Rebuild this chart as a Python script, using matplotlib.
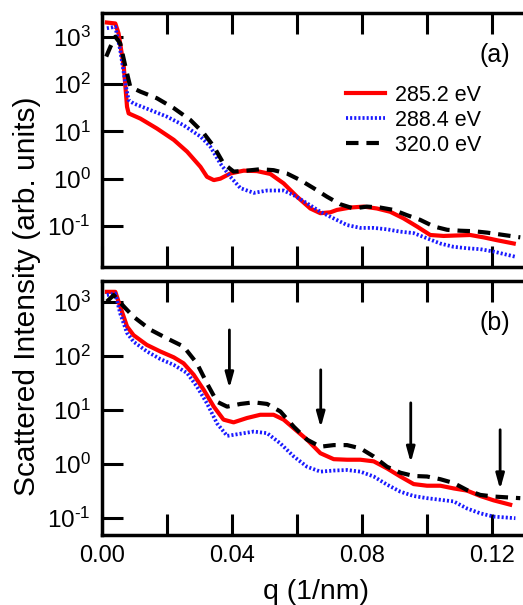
import numpy as np
import matplotlib
matplotlib.use("Agg")
import matplotlib.pyplot as plt
from matplotlib.ticker import FixedLocator, FixedFormatter, NullLocator

plt.rcParams['font.family'] = ['Liberation Sans', 'DejaVu Sans']
plt.rcParams['mathtext.fontset'] = 'custom'
plt.rcParams['mathtext.rm'] = 'Liberation Sans'

# ---------------- data (q in 1/nm, values as log10 of intensity) ----------------
labels = ["285.2 eV", "288.4 eV", "320.0 eV"]

# panel (a)
qa_285 = [0.0015, 0.0041, 0.0051, 0.0067, 0.0077, 0.0082, 0.0118, 0.0169, 0.0221, 0.0262, 0.0303, 0.0323,
          0.0344, 0.0364, 0.0395, 0.0436, 0.0477, 0.0518, 0.0559, 0.0600, 0.0641, 0.0672, 0.0703, 0.0723,
          0.0764, 0.0805, 0.0846, 0.0887, 0.0928, 0.0969, 0.1010, 0.1051, 0.1092, 0.1133, 0.1174, 0.1215, 0.1267]
la_285 = [3.30, 3.28, 3.07, 2.37, 1.52, 1.38, 1.27, 1.06, 0.82, 0.57, 0.25, 0.04,
          -0.03, 0.00, 0.11, 0.17, 0.16, 0.10, -0.10, -0.38, -0.63, -0.73, -0.71, -0.66,
          -0.61, -0.59, -0.63, -0.70, -0.84, -1.01, -1.19, -1.21, -1.20, -1.19, -1.24, -1.30, -1.37]

qa_288 = [0.0015, 0.0041, 0.0056, 0.0072, 0.0082, 0.0097, 0.0149, 0.0200, 0.0251, 0.0303, 0.0333, 0.0364,
          0.0395, 0.0426, 0.0467, 0.0508, 0.0559, 0.0590, 0.0631, 0.0672, 0.0713, 0.0754, 0.0795, 0.0836,
          0.0877, 0.0918, 0.0959, 0.1000, 0.1041, 0.1082, 0.1123, 0.1164, 0.1205, 0.1272]
la_288 = [3.18, 3.21, 2.72, 2.01, 1.66, 1.59, 1.45, 1.31, 1.13, 0.89, 0.68, 0.32,
          0.04, -0.20, -0.30, -0.25, -0.25, -0.35, -0.52, -0.70, -0.84, -0.98, -1.04, -1.04,
          -1.07, -1.12, -1.15, -1.26, -1.37, -1.44, -1.47, -1.49, -1.54, -1.65]

qa_320 = [0.0013, 0.0026, 0.0041, 0.0056, 0.0072, 0.0087, 0.0118, 0.0169, 0.0221, 0.0272, 0.0313, 0.0344,
          0.0374, 0.0405, 0.0446, 0.0487, 0.0528, 0.0569, 0.0610, 0.0651, 0.0692, 0.0733, 0.0774, 0.0815,
          0.0856, 0.0897, 0.0938, 0.0979, 0.1021, 0.1062, 0.1103, 0.1144, 0.1185, 0.1226, 0.1287]
la_320 = [2.58, 2.79, 3.00, 2.86, 2.37, 1.94, 1.84, 1.70, 1.49, 1.24, 0.96, 0.68,
          0.32, 0.15, 0.17, 0.20, 0.18, 0.11, -0.03, -0.20, -0.38, -0.54, -0.63, -0.59,
          -0.61, -0.66, -0.77, -0.87, -1.01, -1.08, -1.10, -1.11, -1.14, -1.18, -1.24]

# panel (b)
qb_285 = [0.0015, 0.0041, 0.0056, 0.0077, 0.0097, 0.0138, 0.0179, 0.0221, 0.0251, 0.0282, 0.0313, 0.0344,
          0.0374, 0.0405, 0.0446, 0.0487, 0.0528, 0.0559, 0.0590, 0.0631, 0.0672, 0.0713, 0.0754, 0.0795,
          0.0836, 0.0877, 0.0918, 0.0959, 0.1000, 0.1041, 0.1082, 0.1123, 0.1164, 0.1205, 0.1256]
lb_285 = [3.18, 3.18, 2.91, 2.54, 2.38, 2.20, 2.08, 1.97, 1.86, 1.65, 1.37, 1.06,
          0.82, 0.77, 0.85, 0.91, 0.91, 0.82, 0.66, 0.45, 0.20, 0.09, 0.08, 0.08,
          0.05, -0.08, -0.23, -0.37, -0.40, -0.40, -0.45, -0.49, -0.59, -0.67, -0.75]

qb_288 = [0.0015, 0.0041, 0.0056, 0.0077, 0.0097, 0.0138, 0.0179, 0.0221, 0.0262, 0.0292, 0.0323, 0.0354,
          0.0385, 0.0426, 0.0467, 0.0508, 0.0549, 0.0590, 0.0631, 0.0672, 0.0713, 0.0754, 0.0795, 0.0836,
          0.0877, 0.0918, 0.0959, 0.1000, 0.1041, 0.1082, 0.1123, 0.1164, 0.1205, 0.1272]
lb_288 = [3.12, 3.15, 2.78, 2.42, 2.26, 2.08, 1.94, 1.83, 1.68, 1.43, 1.12, 0.75,
          0.52, 0.56, 0.60, 0.57, 0.38, 0.14, -0.05, -0.14, -0.12, -0.11, -0.14, -0.23,
          -0.38, -0.51, -0.59, -0.63, -0.66, -0.69, -0.82, -0.91, -0.97, -1.00]

qb_320 = [0.0015, 0.0036, 0.0067, 0.0097, 0.0149, 0.0200, 0.0251, 0.0292, 0.0323, 0.0354, 0.0385, 0.0426,
          0.0467, 0.0508, 0.0549, 0.0590, 0.0631, 0.0672, 0.0713, 0.0754, 0.0795, 0.0836, 0.0877, 0.0918,
          0.0959, 0.1000, 0.1041, 0.1082, 0.1123, 0.1164, 0.1205, 0.1287]
lb_320 = [3.00, 3.12, 2.91, 2.72, 2.48, 2.32, 2.17, 1.86, 1.49, 1.15, 1.06, 1.11,
          1.14, 1.11, 0.97, 0.69, 0.45, 0.32, 0.35, 0.35, 0.29, 0.14, -0.05, -0.16,
          -0.22, -0.23, -0.28, -0.35, -0.48, -0.57, -0.60, -0.63]

# arrows in panel (b): q position, tail value, head value
arrow_q = [0.0392, 0.0673, 0.0950, 0.1225]
arrow_tail = [300, 55, 13.5, 4.3]
arrow_head = [25, 4.7, 1.06, 0.34]

y_ticks = [0.1, 1, 10, 100, 1000]
y_ticklabels = [r'$\mathregular{10^{\text{-}1}}$', r'$\mathregular{10^{0}}$', r'$\mathregular{10^{1}}$',
                r'$\mathregular{10^{2}}$', r'$\mathregular{10^{3}}$']
x_ticks = [0.00, 0.02, 0.04, 0.06, 0.08, 0.10, 0.12]
x_ticklabels = ['0.00', '', '0.04', '', '0.08', '', '0.12']

# ---------------- figure ----------------
W, H = 523, 605
fig = plt.figure(figsize=(W / 100, H / 100), dpi=100)

def pos(l, t, r, b):
    return [l / W, 1 - b / H, (r - l) / W, (b - t) / H]

ax1 = fig.add_axes(pos(102, 13.3, 524.5, 266.7))
ax2 = fig.add_axes(pos(102, 281, 524.5, 535))

red, blue, black = '#ff0000', '#1a1aff', '#000000'
dash = (3.0, 1.9)

def draw(ax, q1, l1, q2, l2, q3, l3):
    h1, = ax.plot(q1, 10 ** np.array(l1), color=red, lw=3.0, ls='-', label=labels[0],
                  solid_joinstyle='round')
    h2, = ax.plot(q2, 10 ** np.array(l2), color=blue, lw=2.7, ls=(0, (0.55, 0.55)), label=labels[1])
    h3, = ax.plot(q3, 10 ** np.array(l3), color=black, lw=3.0, ls=(0, dash), label=labels[2])
    return [h1, h2, h3]

handles = draw(ax1, qa_285, la_285, qa_288, la_288, qa_320, la_320)
draw(ax2, qb_285, lb_285, qb_288, lb_288, qb_320, lb_320)

for ax, ylim in ((ax1, (10 ** -1.86, 10 ** 3.495)), (ax2, (10 ** -1.31, 10 ** 3.38))):
    ax.set_yscale('log')
    ax.set_xlim(0.0, 0.13)
    ax.set_ylim(*ylim)
    ax.yaxis.set_major_locator(FixedLocator(y_ticks))
    ax.yaxis.set_major_formatter(FixedFormatter(y_ticklabels))
    ax.yaxis.set_minor_locator(NullLocator())
    ax.xaxis.set_major_locator(FixedLocator(x_ticks))
    ax.xaxis.set_major_formatter(FixedFormatter(x_ticklabels))
    ax.tick_params(direction='in', length=15, width=2.2, top=True, right=False, colors='black')
    ax.tick_params(axis='y', labelsize=17.5, pad=8)
    ax.tick_params(axis='x', labelsize=17, pad=7.5)
    for s in ax.spines.values():
        s.set_linewidth(2.5)

ax1.tick_params(labelbottom=False)

for q, t, h in zip(arrow_q, arrow_tail, arrow_head):
    ax2.annotate('', xy=(q, h), xytext=(q, t),
                 arrowprops=dict(arrowstyle='-|>,head_length=0.9,head_width=0.25', color='black', lw=2.0,
                                 shrinkA=0, shrinkB=0))

ax1.text(495 / W, 1 - 55 / H, '(a)', transform=fig.transFigure, fontsize=18, ha='center', va='center')
ax2.text(495 / W, 1 - 323 / H, '(b)', transform=fig.transFigure, fontsize=18, ha='center', va='center')

leg = ax1.legend(handles=handles, loc='upper left', bbox_to_anchor=(335 / W, 1 - 74 / H),
                 bbox_transform=fig.transFigure, frameon=False, fontsize=15.5, handlelength=1.8,
                 handletextpad=0.5, labelspacing=0.18, borderpad=0)

fig.text(27 / W, 1 - 296 / H, 'Scattered Intensity (arb. units)', rotation=90, fontsize=21.5,
         ha='center', va='center')
fig.text(316 / W, 1 - 592 / H, 'q (1/nm)', fontsize=20.5, ha='center', va='center')

fig.savefig('out.png', dpi=100)
